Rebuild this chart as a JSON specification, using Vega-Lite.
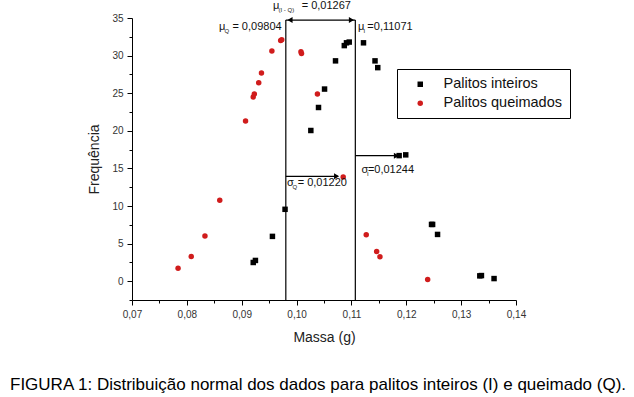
{
  "$schema": "https://vega.github.io/schema/vega-lite/v6.json",
  "width": 384,
  "height": 282,
  "autosize": "none",
  "padding": {"left": 132, "top": 18, "right": 118, "bottom": 97},
  "background": "white",
  "config": {"view": {"stroke": null}, "font": "Liberation Sans"},
  "title": {
    "text": "FIGURA 1: Distribuição normal dos dados para palitos inteiros (I) e queimado (Q).",
    "orient": "bottom",
    "anchor": "start",
    "frame": "group",
    "dx": -122,
    "offset": 33,
    "fontSize": 17,
    "fontWeight": "normal",
    "font": "Liberation Sans",
    "color": "#000"
  },
  "datasets": {
    "points": [
      {"series": "Palitos inteiros", "x": 0.0921, "y": 2.49},
      {"series": "Palitos inteiros", "x": 0.0925, "y": 2.76},
      {"series": "Palitos inteiros", "x": 0.0956, "y": 5.96},
      {"series": "Palitos inteiros", "x": 0.0979, "y": 9.56},
      {"series": "Palitos inteiros", "x": 0.1026, "y": 20.04},
      {"series": "Palitos inteiros", "x": 0.1040, "y": 23.1},
      {"series": "Palitos inteiros", "x": 0.1051, "y": 25.55},
      {"series": "Palitos inteiros", "x": 0.1071, "y": 29.3},
      {"series": "Palitos inteiros", "x": 0.1087, "y": 31.33},
      {"series": "Palitos inteiros", "x": 0.1091, "y": 31.7},
      {"series": "Palitos inteiros", "x": 0.1096, "y": 31.8},
      {"series": "Palitos inteiros", "x": 0.1122, "y": 31.7},
      {"series": "Palitos inteiros", "x": 0.1143, "y": 29.3},
      {"series": "Palitos inteiros", "x": 0.1148, "y": 28.4},
      {"series": "Palitos inteiros", "x": 0.1187, "y": 16.7},
      {"series": "Palitos inteiros", "x": 0.1199, "y": 16.8},
      {"series": "Palitos inteiros", "x": 0.1246, "y": 7.55},
      {"series": "Palitos inteiros", "x": 0.1248, "y": 7.55},
      {"series": "Palitos inteiros", "x": 0.1257, "y": 6.22},
      {"series": "Palitos inteiros", "x": 0.1334, "y": 0.71},
      {"series": "Palitos inteiros", "x": 0.1337, "y": 0.75},
      {"series": "Palitos inteiros", "x": 0.1360, "y": 0.35},
      {"series": "Palitos queimados", "x": 0.0784, "y": 1.73},
      {"series": "Palitos queimados", "x": 0.0808, "y": 3.29},
      {"series": "Palitos queimados", "x": 0.0833, "y": 6.0},
      {"series": "Palitos queimados", "x": 0.0860, "y": 10.76},
      {"series": "Palitos queimados", "x": 0.0907, "y": 21.3},
      {"series": "Palitos queimados", "x": 0.0921, "y": 24.5},
      {"series": "Palitos queimados", "x": 0.0923, "y": 24.9},
      {"series": "Palitos queimados", "x": 0.0931, "y": 26.4},
      {"series": "Palitos queimados", "x": 0.0936, "y": 27.7},
      {"series": "Palitos queimados", "x": 0.0955, "y": 30.6},
      {"series": "Palitos queimados", "x": 0.0971, "y": 32.0},
      {"series": "Palitos queimados", "x": 0.0973, "y": 32.1},
      {"series": "Palitos queimados", "x": 0.1008, "y": 30.5},
      {"series": "Palitos queimados", "x": 0.1009, "y": 30.27},
      {"series": "Palitos queimados", "x": 0.1038, "y": 24.9},
      {"series": "Palitos queimados", "x": 0.1085, "y": 13.87},
      {"series": "Palitos queimados", "x": 0.1127, "y": 6.18},
      {"series": "Palitos queimados", "x": 0.1146, "y": 3.96},
      {"series": "Palitos queimados", "x": 0.1152, "y": 3.24},
      {"series": "Palitos queimados", "x": 0.1239, "y": 0.22}
    ],
    "vlines": [
      {"x": 0.09804, "y": 34.73, "y2": -2.5},
      {"x": 0.11071, "y": 34.73, "y2": -2.5}
    ],
    "hlines": [
      {"x": 0.09804, "x2": 0.11071, "y": 34.73},
      {"x": 0.09804, "x2": 0.1075, "y": 13.95},
      {"x": 0.11071, "x2": 0.1184, "y": 16.69}
    ],
    "headsRight": [
      {"x": 0.1100, "y": 34.73},
      {"x": 0.1073, "y": 13.95},
      {"x": 0.1182, "y": 16.69}
    ],
    "headsLeft": [
      {"x": 0.0988, "y": 34.73}
    ],
    "annot": [
      {"piece": "sym", "x": 0.08586, "y": 33.84, "t": "μ"},
      {"piece": "sub", "x": 0.08586, "y": 33.84, "t": "Q"},
      {"piece": "val", "x": 0.08830, "y": 33.84, "t": "= 0,09804"},
      {"piece": "sym", "x": 0.0957, "y": 36.6, "t": "μ"},
      {"piece": "sub", "x": 0.0957, "y": 36.6, "t": "(I - Q)"},
      {"piece": "val", "x": 0.10093, "y": 36.6, "t": "= 0,01267"},
      {"piece": "sym", "x": 0.1112, "y": 33.84, "t": "μ"},
      {"piece": "sub", "x": 0.1112, "y": 33.84, "t": "I"},
      {"piece": "val", "x": 0.11290, "y": 33.84, "t": "=0,11071"},
      {"piece": "sym", "x": 0.09825, "y": 13.02, "t": "σ"},
      {"piece": "sub", "x": 0.09825, "y": 13.02, "t": "Q"},
      {"piece": "val", "x": 0.10020, "y": 13.02, "t": "= 0,01220"},
      {"piece": "sym", "x": 0.11183, "y": 14.79, "t": "σ"},
      {"piece": "sub", "x": 0.11183, "y": 14.79, "t": "I"},
      {"piece": "val", "x": 0.11300, "y": 14.79, "t": "=0,01244"}
    ]
  },
  "encoding": {
    "x": {
      "field": "x",
      "type": "quantitative",
      "scale": {"domain": [0.07, 0.14], "nice": false, "zero": false},
      "axis": {
        "title": "Massa (g)",
        "values": [0.07, 0.075, 0.08, 0.085, 0.09, 0.095, 0.1, 0.105, 0.11, 0.115, 0.12, 0.125, 0.13, 0.135, 0.14],
        "labelExpr": "abs(datum.value*100 - round(datum.value*100)) < 0.001 ? replace(format(datum.value, '.2f'), '.', ',') : ''",
        "tickSize": {"condition": {"test": "abs(datum.value*100 - round(datum.value*100)) < 0.001", "value": 5}, "value": 3},
        "grid": false,
        "domainColor": "#000",
        "tickColor": "#000",
        "labelColor": "#333",
        "labelFontSize": 10,
        "labelPadding": 4,
        "titleFontSize": 14,
        "titleFontWeight": "normal",
        "titleColor": "#222",
        "titlePadding": 11,
        "labelFlush": false,
        "labelOverlap": false
      }
    },
    "y": {
      "field": "y",
      "type": "quantitative",
      "scale": {"domain": [-2.5, 35], "nice": false, "zero": false},
      "axis": {
        "title": "Frequência",
        "values": [-2.5, 0, 2.5, 5, 7.5, 10, 12.5, 15, 17.5, 20, 22.5, 25, 27.5, 30, 32.5, 35],
        "labelExpr": "datum.value % 5 === 0 ? datum.value : ''",
        "tickSize": {"condition": {"test": "datum.value % 5 === 0", "value": 5}, "value": 3},
        "grid": false,
        "domainColor": "#000",
        "tickColor": "#000",
        "labelColor": "#333",
        "labelFontSize": 10,
        "labelPadding": 4,
        "titleFontSize": 14,
        "titleFontWeight": "normal",
        "titleColor": "#222",
        "titlePadding": 10,
        "labelFlush": false,
        "labelOverlap": false
      }
    }
  },
  "layer": [
    {
      "data": {"name": "vlines"},
      "mark": {"type": "rule", "color": "#000", "strokeWidth": 1.2},
      "encoding": {"y2": {"field": "y2"}}
    },
    {
      "data": {"name": "hlines"},
      "mark": {"type": "rule", "color": "#000", "strokeWidth": 1.2},
      "encoding": {"x2": {"field": "x2"}}
    },
    {
      "data": {"name": "headsRight"},
      "mark": {"type": "point", "shape": "triangle-right", "filled": true, "color": "#000", "size": 35, "opacity": 1}
    },
    {
      "data": {"name": "headsLeft"},
      "mark": {"type": "point", "shape": "triangle-left", "filled": true, "color": "#000", "size": 35, "opacity": 1}
    },
    {
      "data": {"name": "points"},
      "mark": {"type": "point", "filled": true, "opacity": 1, "size": 30},
      "encoding": {
        "color": {
          "field": "series",
          "type": "nominal",
          "scale": {"domain": ["Palitos inteiros", "Palitos queimados"], "range": ["#000000", "#d01c1c"]},
          "legend": {
            "title": null,
            "orient": "none",
            "legendX": 265,
            "legendY": 51,
            "strokeColor": "#000",
            "fillColor": "#fff",
            "padding": 8,
            "labelFontSize": 14.5,
            "labelColor": "#111",
            "labelFont": "Liberation Sans",
            "labelOffset": 16,
            "symbolSize": 30,
            "rowPadding": 4,
            "symbolOffset": 8
          }
        },
        "shape": {
          "field": "series",
          "type": "nominal",
          "scale": {"domain": ["Palitos inteiros", "Palitos queimados"], "range": ["square", "circle"]}
        }
      }
    },
    {
      "data": {"name": "annot"},
      "transform": [{"filter": "datum.piece === 'sym'"}],
      "mark": {"type": "text", "align": "left", "baseline": "middle", "fontSize": 11, "color": "#111"},
      "encoding": {"text": {"field": "t"}}
    },
    {
      "data": {"name": "annot"},
      "transform": [{"filter": "datum.piece === 'sub'"}],
      "mark": {"type": "text", "align": "left", "baseline": "middle", "fontSize": 6, "dx": 5.5, "dy": 4, "color": "#111"},
      "encoding": {"text": {"field": "t"}}
    },
    {
      "data": {"name": "annot"},
      "transform": [{"filter": "datum.piece === 'val'"}],
      "mark": {"type": "text", "align": "left", "baseline": "middle", "fontSize": 11, "color": "#111"},
      "encoding": {"text": {"field": "t"}}
    }
  ]
}
